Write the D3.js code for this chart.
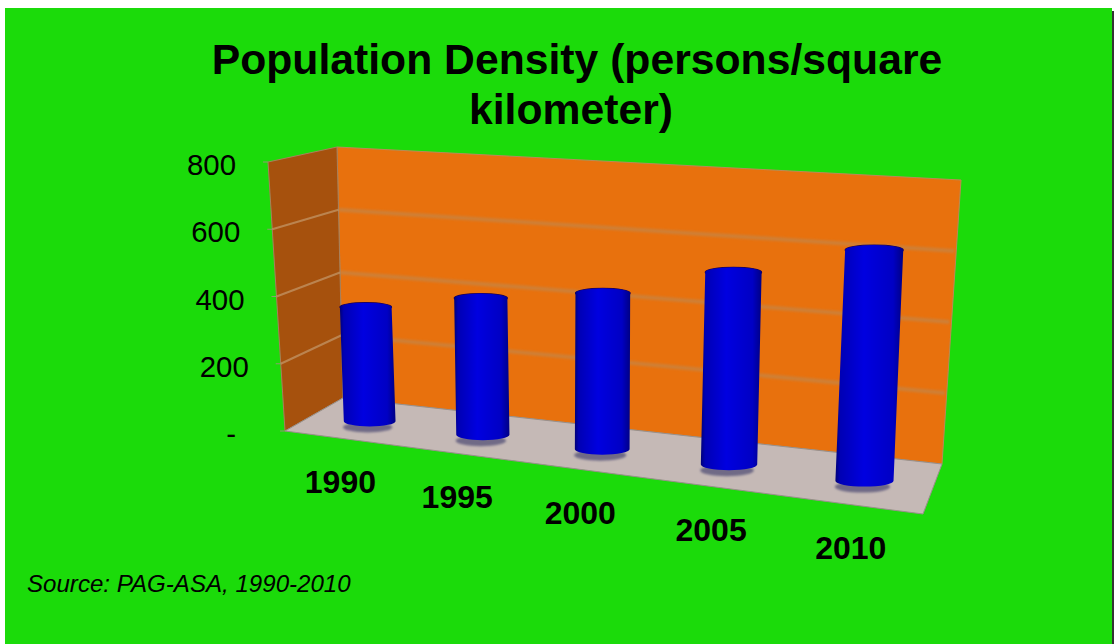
<!DOCTYPE html>
<html>
<head>
<meta charset="utf-8">
<script src="https://cdnjs.cloudflare.com/ajax/libs/d3/7.8.5/d3.min.js"></script>
<style>
html,body{margin:0;padding:0;background:#fff;overflow:hidden}
svg{display:block}
text{font-family:"Liberation Sans",Arial,sans-serif;fill:#000}
</style>
</head>
<body>
<svg id="chart" width="1114" height="644"></svg>
<script>
const titleLines = ["Population Density (persons/square", "kilometer)"];
const source = "Source: PAG-ASA, 1990-2010";
const years = ["1990", "1995", "2000", "2005", "2010"];
const density = [346, 403, 447, 534, 621];
const ticks = [0, 200, 400, 600, 800];

// Corners of the printed 3D box on the page
const floorFront = [[285, 431], [923, 514]];
const floorBack  = [[343, 398], [942, 464]];
const topFront   = [[268, 162], [935, 194]];
const topBack    = [[337, 147], [961, 180]];

const svg = d3.select("#chart");
const defs = svg.append("defs");
defs.append("filter").attr("id", "soft").attr("x", "-5%").attr("y", "-5%").attr("width", "110%").attr("height", "110%")
  .append("feGaussianBlur").attr("stdDeviation", 0.7);
defs.append("filter").attr("id", "soft2").attr("x", "-30%").attr("y", "-30%").attr("width", "160%").attr("height", "160%")
  .append("feGaussianBlur").attr("stdDeviation", 1.3);
defs.append("filter").attr("id", "soft3").attr("filterUnits", "userSpaceOnUse").attr("x", 250).attr("y", 130).attr("width", 730).attr("height", 400)
  .append("feGaussianBlur").attr("stdDeviation", 1.1);
const grad = defs.append("linearGradient").attr("id", "cyl").attr("x1", 0).attr("x2", 1).attr("y1", 0).attr("y2", 0);
[[0, "#000078"], [0.07, "#0000b4"], [0.42, "#0000e0"], [0.85, "#0000c4"], [1, "#000084"]]
  .forEach(([o, c]) => grad.append("stop").attr("offset", o).attr("stop-color", c));

// Scales: the perspective spreads the categories slightly toward the right
const across = d3.scaleOrdinal().domain(years).range([0.09, 0.273, 0.466, 0.671, 0.89]);
const vy = d3.scaleLinear().domain([0, 800]).range([0, 1]);
const lerpPt = d3.interpolateArray;
function corner(pair, u) { return lerpPt(pair[0], pair[1])(u); }
// u across, value, z depth (0 front, 1 back)
function project(u, value, z) {
  const bottom = lerpPt(corner(floorFront, u), corner(floorBack, u))(z);
  const top = lerpPt(corner(topFront, u), corner(topBack, u))(z);
  return lerpPt(bottom, top)(vy(value));
}
const poly = pts => "M" + pts.map(p => p.join(",")).join("L") + "Z";

// Background panel
svg.append("rect").attr("x", 5).attr("y", 8).attr("width", 1107).attr("height", 636)
  .attr("fill", "#1bdb0a");
svg.append("rect").attr("x", 1112).attr("y", 11).attr("width", 2).attr("height", 633)
  .attr("fill", "#333");

const box = svg.append("g").attr("filter", "url(#soft)");
// Back wall
box.append("path")
  .attr("d", poly([project(0, 800, 1), project(1, 800, 1), project(1, 0, 1), project(0, 0, 1)]))
  .attr("fill", "#e8710e").attr("stroke", "#b98a58").attr("stroke-width", 1);
// Left wall
box.append("path")
  .attr("d", poly([project(0, 800, 0), project(0, 800, 1), project(0, 0, 1), project(0, 0, 0)]))
  .attr("fill", "#a6510f").attr("stroke", "#a8805c").attr("stroke-width", 1);
// Floor
box.append("path")
  .attr("d", poly([project(0, 0, 0), project(0, 0, 1), project(1, 0, 1), project(1, 0, 0)]))
  .attr("fill", "#c5b9b6").attr("stroke", "#9a8f8c").attr("stroke-width", 1);

// Gridlines
const gridTicks = ticks.filter(t => t > 0 && t < 800);
svg.append("g").attr("filter", "url(#soft3)").selectAll("line").data(gridTicks).join("line")
  .attr("x1", d => project(0, d, 1)[0]).attr("y1", d => project(0, d, 1)[1])
  .attr("x2", d => project(1, d, 1)[0] - 2).attr("y2", d => project(1, d, 1)[1])
  .attr("stroke", "#b98a58").attr("stroke-opacity", 0.55).attr("stroke-width", 4);
box.selectAll("line.left").data(gridTicks).join("line").attr("class", "left")
  .attr("x1", d => project(0, d, 0)[0]).attr("y1", d => project(0, d, 0)[1])
  .attr("x2", d => project(0, d, 1)[0]).attr("y2", d => project(0, d, 1)[1])
  .attr("stroke", "#c49a6c").attr("stroke-opacity", 0.7).attr("stroke-width", 2);

// Tick marks along the left wall
box.selectAll("line.ty").data(ticks).join("line").attr("class", "ty")
  .attr("x1", d => project(0, d, 0)[0] - 5).attr("y1", d => project(0, d, 0)[1])
  .attr("x2", d => project(0, d, 0)[0]).attr("y2", d => project(0, d, 0)[1])
  .attr("stroke", "#8f9a70").attr("stroke-width", 1);

// Cylinders
const rx = d3.scaleLinear().domain([0, 1]).range([25.5, 29.5]);
const bars = svg.append("g").selectAll("g").data(years.map((y, i) => ({ y, v: density[i] }))).join("g");
bars.each(function (d) {
  const g = d3.select(this);
  const u = across(d.y);
  const b = project(u, 0, 0.5), t = project(u, d.v, 0.5);
  const r = rx(u), ry = r * 0.2, rt = r * 0.17;
  g.append("ellipse").attr("cx", b[0] - 2).attr("cy", b[1] + 6).attr("rx", r * 0.95).attr("ry", ry)
    .attr("fill", "#6f6a86").attr("filter", "url(#soft2)");
  g.append("ellipse").attr("cx", t[0]).attr("cy", t[1]).attr("rx", r).attr("ry", rt)
    .attr("fill", "#000090").attr("stroke", "#20004a").attr("stroke-width", 1.2).attr("filter", "url(#soft)");
  g.append("path")
    .attr("d", `M${t[0] - r},${t[1]}L${b[0] - r},${b[1]}A${r},${ry} 0 0 0 ${b[0] + r},${b[1]}L${t[0] + r},${t[1]}A${r},${rt} 0 0 0 ${t[0] - r},${t[1]}Z`)
    .attr("fill", "url(#cyl)").attr("filter", "url(#soft)");
});

// Text
svg.append("g").selectAll("text").data(titleLines).join("text")
  .attr("x", (d, i) => i === 0 ? 577 : 571).attr("y", (d, i) => 74 + i * 50)
  .attr("text-anchor", "middle").attr("font-size", 42.7).attr("font-weight", "bold").text(d => d);

svg.append("g").selectAll("text").data(ticks).join("text")
  .attr("x", d => project(0, d, 0)[0] - (d === 0 ? 49 : 32))
  .attr("y", d => project(0, d, 0)[1] + 13)
  .attr("text-anchor", "end").attr("font-size", 29.4)
  .text(d => d === 0 ? "-" : d);

svg.append("g").selectAll("text").data(years).join("text")
  .attr("x", d => project(across(d), 0, 0)[0] - 2)
  .attr("y", d => project(across(d), 0, 0)[1] + 54.5)
  .attr("text-anchor", "middle").attr("font-size", 32).attr("font-weight", "bold").text(d => d);

svg.append("text").attr("x", 27).attr("y", 592)
  .attr("font-size", 24.1).attr("font-style", "italic").text(source);
</script>
</body>
</html>
